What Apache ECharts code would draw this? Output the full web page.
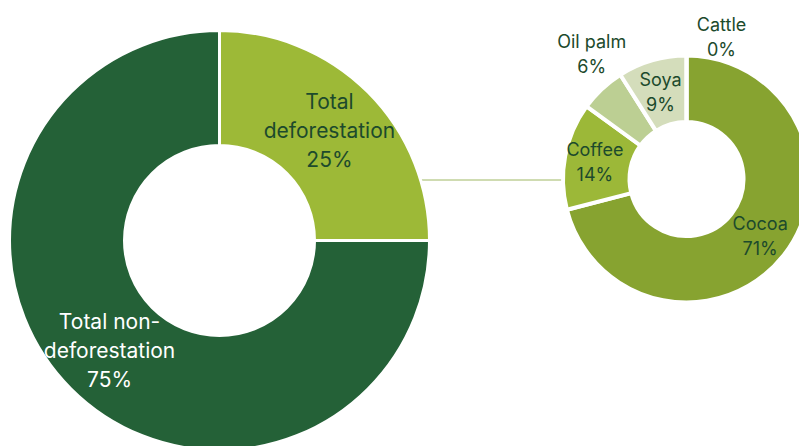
<!DOCTYPE html>
<html>
<head>
<meta charset="utf-8">
<script src="https://cdn.jsdelivr.net/npm/echarts@6/dist/echarts.min.js"></script>
<style>
  html, body { margin: 0; padding: 0; background: #ffffff; }
  #chart { width: 799px; height: 446px; }
</style>
</head>
<body>
<div id="chart"></div>
<script>
// Share of production: deforestation vs. non-deforestation (%)
const totalNames = ['Total\ndeforestation', 'Total non-\ndeforestation'];
const totalValues = [25, 75];

// Breakdown of deforestation by commodity (%)
const commodityNames = ['Cocoa', 'Coffee', 'Oil palm', 'Soya', 'Cattle'];
const commodityValues = [71, 14, 6, 9, 0];

const totalColors = ['#9db937', '#246137'];
const totalTextColors = ['#1c4a2c', '#ffffff'];
const commodityColors = ['#87a330', '#9cb838', '#bccf93', '#d4ddbb', '#c9d6a8'];

const FONT = 'Inter, "Noto Sans", sans-serif';

// donut geometry
const bigC = [219.5, 240.5], bigR = [95, 210];
const smallC = [686.5, 179], smallR = [57, 123.5];

// labels nudged: thin slices get theirs outside the ring
const labelShift = { 2: { dx: -31, dy: -57 }, 3: { dx: 0, dy: 3 }, 4: { dx: 35, dy: -49 } };

const chart = echarts.init(document.getElementById('chart'), null, { renderer: 'svg' });

// connector between the two rings
const lineY = 180;
const x1 = bigC[0] + Math.sqrt(208.5 * 208.5 - (lineY - bigC[1]) ** 2);
const x2 = smallC[0] - Math.sqrt(122 * 122 - (lineY - smallC[1]) ** 2);

chart.setOption({
  animation: false,
  backgroundColor: '#ffffff',
  graphic: [{
    type: 'line', z: -1,
    shape: { x1: x1 - 8, y1: lineY, x2: x2 + 2, y2: lineY },
    style: { stroke: '#9fb865', lineWidth: 1 }
  }],
  series: [
    {
      type: 'pie',
      center: bigC,
      radius: bigR,
      startAngle: 90,
      clockwise: true,
      avoidLabelOverlap: false,
      itemStyle: { borderColor: '#ffffff', borderWidth: 3 },
      label: {
        position: 'inside',
        fontFamily: FONT,
        fontSize: 21,
        lineHeight: 29,
        align: 'center',
        formatter: p => p.name + '\n' + p.value + '%'
      },
      labelLine: { show: false },
      data: totalNames.map((n, i) => ({
        name: n,
        value: totalValues[i],
        itemStyle: { color: totalColors[i] },
        label: { color: totalTextColors[i] }
      }))
    },
    {
      type: 'pie',
      center: smallC,
      radius: smallR,
      startAngle: 90,
      clockwise: true,
      avoidLabelOverlap: false,
      itemStyle: { borderColor: '#ffffff', borderWidth: 4 },
      label: {
        position: 'inside',
        fontFamily: FONT,
        fontSize: 18,
        lineHeight: 25,
        align: 'center',
        color: '#1c4a2c',
        formatter: p => p.name + '\n' + p.value + '%'
      },
      labelLine: { show: false },
      labelLayout: p => labelShift[p.dataIndex] || {},
      data: commodityNames.map((n, i) => ({
        name: n,
        value: commodityValues[i],
        itemStyle: { color: commodityColors[i] }
      }))
    }
  ]
});
</script>
</body>
</html>
